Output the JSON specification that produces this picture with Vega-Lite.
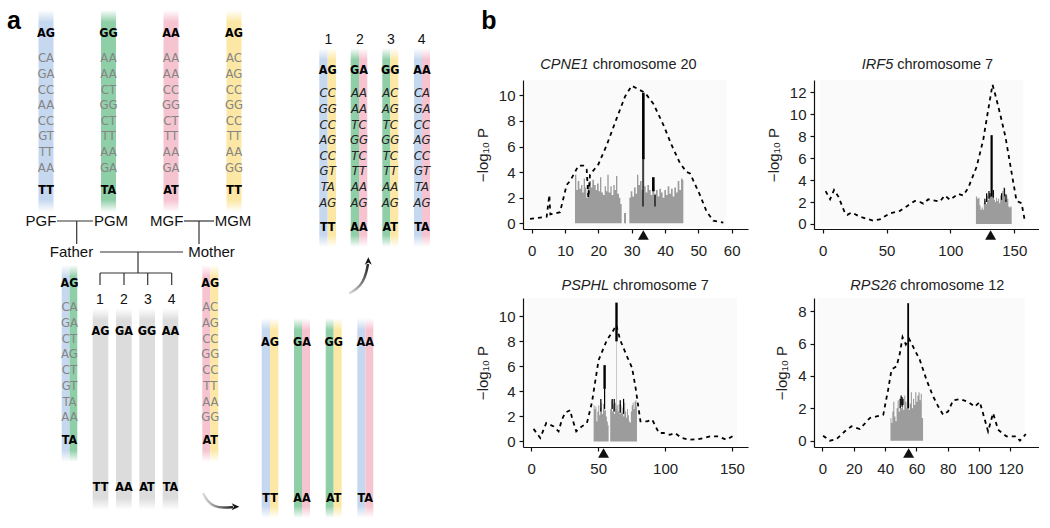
{
"$schema": "https://vega.github.io/schema/vega-lite/v6.json",
"padding": 0,
"background": "white",
"config": {
 "view": {"stroke": null},
 "font": "Liberation Sans",
 "axis": {"domainColor": "#111", "tickColor": "#111", "labelColor": "#222", "labelFontSize": 15, "labelFont": "Liberation Sans", "tickSize": 4, "grid": false, "titleFont": "Liberation Sans", "titleFontSize": 15, "titleFontWeight": "normal", "titleColor": "#222", "domainWidth": 1.2, "tickWidth": 1.2, "labelFlush": false, "labelOverlap": false},
 "axisX": {"labelPadding": 10},
 "axisY": {"labelPadding": 4, "titlePadding": 8}
},
"datasets": {
 "strips": [
  {"c":"blue","x":38.5,"x2":53.5,"y":10,"y2":212},
  {"c":"green","x":101,"x2":116,"y":10,"y2":212},
  {"c":"pink","x":163.5,"x2":178.5,"y":10,"y2":212},
  {"c":"yellow","x":226.5,"x2":241.5,"y":10,"y2":212},
  {"c":"blue","x":61.7,"x2":69.5,"y":265,"y2":462},
  {"c":"green","x":69.5,"x2":77.3,"y":265,"y2":462},
  {"c":"pink","x":202.3,"x2":210.3,"y":265,"y2":462},
  {"c":"yellow","x":210.3,"x2":218.3,"y":265,"y2":462},
  {"c":"gray","x":92.7,"x2":108.3,"y":308,"y2":510},
  {"c":"gray","x":116,"x2":131.7,"y":308,"y2":510},
  {"c":"gray","x":139.3,"x2":155,"y":308,"y2":510},
  {"c":"gray","x":162.7,"x2":178.3,"y":308,"y2":510},
  {"c":"blue","x":261.7,"x2":270,"y":318,"y2":518},
  {"c":"yellow","x":270,"x2":278.3,"y":318,"y2":518},
  {"c":"green","x":294,"x2":302,"y":318,"y2":518},
  {"c":"pink","x":302,"x2":310,"y":318,"y2":518},
  {"c":"green","x":325.7,"x2":333.7,"y":318,"y2":518},
  {"c":"yellow","x":333.7,"x2":341.7,"y":318,"y2":518},
  {"c":"blue","x":357.3,"x2":365.3,"y":318,"y2":518},
  {"c":"pink","x":365.3,"x2":373.3,"y":318,"y2":518},
  {"c":"blue","x":319.3,"x2":327.7,"y":48,"y2":247},
  {"c":"yellow","x":327.7,"x2":336,"y":48,"y2":247},
  {"c":"green","x":350.7,"x2":359,"y":48,"y2":247},
  {"c":"pink","x":359,"x2":367.3,"y":48,"y2":247},
  {"c":"green","x":382.3,"x2":390.3,"y":48,"y2":247},
  {"c":"yellow","x":390.3,"x2":398.3,"y":48,"y2":247},
  {"c":"blue","x":414,"x2":422,"y":48,"y2":247},
  {"c":"pink","x":422,"x2":430,"y":48,"y2":247}
 ],
 "texts": [
  {"s":"panel","x":14,"y":21,"t":"a"},
  {"s":"panel","x":489,"y":21,"t":"b"},
  {"s":"bold","x":46,"y":33.3,"t":"AG"},{"s":"bold","x":108.5,"y":33.3,"t":"GG"},{"s":"bold","x":171,"y":33.3,"t":"AA"},{"s":"bold","x":234,"y":33.3,"t":"AG"},
  {"s":"bold","x":46,"y":190,"t":"TT"},{"s":"bold","x":108.5,"y":190,"t":"TA"},{"s":"bold","x":171,"y":190,"t":"AT"},{"s":"bold","x":234,"y":190,"t":"TT"},
  {"s":"gray","x":46,"y":58.3,"t":"CA"},{"s":"gray","x":46,"y":73.9,"t":"GA"},{"s":"gray","x":46,"y":89.5,"t":"CC"},{"s":"gray","x":46,"y":105.1,"t":"AA"},{"s":"gray","x":46,"y":120.7,"t":"CC"},{"s":"gray","x":46,"y":136.3,"t":"GT"},{"s":"gray","x":46,"y":151.9,"t":"TT"},{"s":"gray","x":46,"y":167.5,"t":"AA"},
  {"s":"gray","x":108.5,"y":58.3,"t":"AA"},{"s":"gray","x":108.5,"y":73.9,"t":"AA"},{"s":"gray","x":108.5,"y":89.5,"t":"CT"},{"s":"gray","x":108.5,"y":105.1,"t":"GG"},{"s":"gray","x":108.5,"y":120.7,"t":"CT"},{"s":"gray","x":108.5,"y":136.3,"t":"TT"},{"s":"gray","x":108.5,"y":151.9,"t":"AA"},{"s":"gray","x":108.5,"y":167.5,"t":"GA"},
  {"s":"gray","x":171,"y":58.3,"t":"AA"},{"s":"gray","x":171,"y":73.9,"t":"AA"},{"s":"gray","x":171,"y":89.5,"t":"CC"},{"s":"gray","x":171,"y":105.1,"t":"GG"},{"s":"gray","x":171,"y":120.7,"t":"CT"},{"s":"gray","x":171,"y":136.3,"t":"TT"},{"s":"gray","x":171,"y":151.9,"t":"AA"},{"s":"gray","x":171,"y":167.5,"t":"GA"},
  {"s":"gray","x":234,"y":58.3,"t":"AC"},{"s":"gray","x":234,"y":73.9,"t":"AG"},{"s":"gray","x":234,"y":89.5,"t":"CC"},{"s":"gray","x":234,"y":105.1,"t":"GG"},{"s":"gray","x":234,"y":120.7,"t":"CC"},{"s":"gray","x":234,"y":136.3,"t":"TT"},{"s":"gray","x":234,"y":151.9,"t":"AA"},{"s":"gray","x":234,"y":167.5,"t":"GG"},
  {"s":"bold","x":69.5,"y":283.3,"t":"AG"},{"s":"bold","x":69.5,"y":440,"t":"TA"},
  {"s":"gray","x":69.5,"y":307.3,"t":"CA"},{"s":"gray","x":69.5,"y":323,"t":"GA"},{"s":"gray","x":69.5,"y":338.7,"t":"CT"},{"s":"gray","x":69.5,"y":354.4,"t":"AG"},{"s":"gray","x":69.5,"y":370.1,"t":"CT"},{"s":"gray","x":69.5,"y":385.8,"t":"GT"},{"s":"gray","x":69.5,"y":401.5,"t":"TA"},{"s":"gray","x":69.5,"y":417.2,"t":"AA"},
  {"s":"bold","x":210.3,"y":283.3,"t":"AG"},{"s":"bold","x":210.3,"y":440,"t":"AT"},
  {"s":"gray","x":210.3,"y":307.3,"t":"AC"},{"s":"gray","x":210.3,"y":323,"t":"AG"},{"s":"gray","x":210.3,"y":338.7,"t":"CC"},{"s":"gray","x":210.3,"y":354.4,"t":"GG"},{"s":"gray","x":210.3,"y":370.1,"t":"CC"},{"s":"gray","x":210.3,"y":385.8,"t":"TT"},{"s":"gray","x":210.3,"y":401.5,"t":"AA"},{"s":"gray","x":210.3,"y":417.2,"t":"GG"},
  {"s":"bold","x":100.5,"y":330.7,"t":"AG"},{"s":"bold","x":124,"y":330.7,"t":"GA"},{"s":"bold","x":147,"y":330.7,"t":"GG"},{"s":"bold","x":170.5,"y":330.7,"t":"AA"},
  {"s":"bold","x":100.5,"y":487.3,"t":"TT"},{"s":"bold","x":124,"y":487.3,"t":"AA"},{"s":"bold","x":147,"y":487.3,"t":"AT"},{"s":"bold","x":170.5,"y":487.3,"t":"TA"},
  {"s":"bold","x":270,"y":341.7,"t":"AG"},{"s":"bold","x":302,"y":341.7,"t":"GA"},{"s":"bold","x":333.7,"y":341.7,"t":"GG"},{"s":"bold","x":365.3,"y":341.7,"t":"AA"},
  {"s":"bold","x":270,"y":498.3,"t":"TT"},{"s":"bold","x":302,"y":498.3,"t":"AA"},{"s":"bold","x":333.7,"y":498.3,"t":"AT"},{"s":"bold","x":365.3,"y":498.3,"t":"TA"},
  {"s":"bold","x":327.7,"y":70,"t":"AG"},{"s":"bold","x":359,"y":70,"t":"GA"},{"s":"bold","x":390.3,"y":70,"t":"GG"},{"s":"bold","x":422,"y":70,"t":"AA"},
  {"s":"bold","x":327.7,"y":226.7,"t":"TT"},{"s":"bold","x":359,"y":226.7,"t":"AA"},{"s":"bold","x":390.3,"y":226.7,"t":"AT"},{"s":"bold","x":422,"y":226.7,"t":"TA"},
  {"s":"ital","x":327.7,"y":93.3,"t":"CC"},{"s":"ital","x":327.7,"y":108.9,"t":"GG"},{"s":"ital","x":327.7,"y":124.6,"t":"CC"},{"s":"ital","x":327.7,"y":140.2,"t":"AG"},{"s":"ital","x":327.7,"y":155.8,"t":"CC"},{"s":"ital","x":327.7,"y":171.4,"t":"GT"},{"s":"ital","x":327.7,"y":187.1,"t":"TA"},{"s":"ital","x":327.7,"y":202.7,"t":"AG"},
  {"s":"ital","x":359,"y":93.3,"t":"AA"},{"s":"ital","x":359,"y":108.9,"t":"AA"},{"s":"ital","x":359,"y":124.6,"t":"TC"},{"s":"ital","x":359,"y":140.2,"t":"GG"},{"s":"ital","x":359,"y":155.8,"t":"TC"},{"s":"ital","x":359,"y":171.4,"t":"TT"},{"s":"ital","x":359,"y":187.1,"t":"AA"},{"s":"ital","x":359,"y":202.7,"t":"AG"},
  {"s":"ital","x":390.3,"y":93.3,"t":"AC"},{"s":"ital","x":390.3,"y":108.9,"t":"AG"},{"s":"ital","x":390.3,"y":124.6,"t":"TC"},{"s":"ital","x":390.3,"y":140.2,"t":"GG"},{"s":"ital","x":390.3,"y":155.8,"t":"TC"},{"s":"ital","x":390.3,"y":171.4,"t":"TT"},{"s":"ital","x":390.3,"y":187.1,"t":"AA"},{"s":"ital","x":390.3,"y":202.7,"t":"AG"},
  {"s":"ital","x":422,"y":93.3,"t":"CA"},{"s":"ital","x":422,"y":108.9,"t":"GA"},{"s":"ital","x":422,"y":124.6,"t":"CC"},{"s":"ital","x":422,"y":140.2,"t":"AG"},{"s":"ital","x":422,"y":155.8,"t":"CC"},{"s":"ital","x":422,"y":171.4,"t":"GT"},{"s":"ital","x":422,"y":187.1,"t":"TA"},{"s":"ital","x":422,"y":202.7,"t":"AG"},
  {"s":"name","x":41,"y":221,"t":"PGF"},{"s":"name","x":111,"y":221,"t":"PGM"},{"s":"name","x":166.7,"y":221,"t":"MGF"},{"s":"name","x":233,"y":221,"t":"MGM"},
  {"s":"name","x":71.5,"y":252,"t":"Father"},{"s":"name","x":211.5,"y":252,"t":"Mother"},
  {"s":"num","x":100,"y":300,"t":"1"},{"s":"num","x":124,"y":300,"t":"2"},{"s":"num","x":148,"y":300,"t":"3"},{"s":"num","x":171.7,"y":300,"t":"4"},
  {"s":"num","x":328.3,"y":40,"t":"1"},{"s":"num","x":360,"y":40,"t":"2"},{"s":"num","x":391,"y":40,"t":"3"},{"s":"num","x":421.7,"y":40,"t":"4"}
 ],
 "links": [
  {"x":57,"y":221,"x2":93,"y2":221},{"x":76.7,"y":221,"x2":76.7,"y2":244},
  {"x":184,"y":221,"x2":214,"y2":221},{"x":199,"y":221,"x2":199,"y2":244},
  {"x":100,"y":252,"x2":183,"y2":252},{"x":138,"y":252,"x2":138,"y2":273},
  {"x":100,"y":273,"x2":171.7,"y2":273},
  {"x":100,"y":273,"x2":100,"y2":285},{"x":124,"y":273,"x2":124,"y2":285},{"x":147.7,"y":273,"x2":147.7,"y2":285},{"x":171.7,"y":273,"x2":171.7,"y2":285}
 ],
 "arrows": [
  {"a":1,"o":1,"x":203,"y":493},{"a":1,"o":2,"x":207,"y":501},{"a":1,"o":3,"x":214,"y":506.5},{"a":1,"o":4,"x":224,"y":508},{"a":1,"o":5,"x":233,"y":507},
  {"a":2,"o":1,"x":349,"y":293.5},{"a":2,"o":2,"x":357,"y":289},{"a":2,"o":3,"x":363,"y":282},{"a":2,"o":4,"x":366.5,"y":272},{"a":2,"o":5,"x":368,"y":264}
 ],
 "heads": [{"a":1,"x":235.5,"y":506.7},{"a":2,"x":368.3,"y":261}],
 "genes": [
  {"p":1,"x":33.5,"gene":"CPNE1","chrom":"chromosome 20"},
  {"p":2,"x":131.5,"gene":"IRF5","chrom":"chromosome 7"},
  {"p":3,"x":54.0,"gene":"PSPHL","chrom":"chromosome 7"},
  {"p":4,"x":55.0,"gene":"RPS26","chrom":"chromosome 12"}
 ],
 "p1_bars": [
  {"seg":"a","x":13.0,"y":3.8},{"seg":"a","x":13.4,"y":2.6},{"seg":"a","x":13.8,"y":3.3},{"seg":"a","x":14.3,"y":2.7},{"seg":"a","x":14.8,"y":3.0},{"seg":"a","x":15.2,"y":2.4},{"seg":"a","x":15.6,"y":3.5},{"seg":"a","x":16.0,"y":2.8},{"seg":"a","x":16.4,"y":2.0},{"seg":"a","x":16.8,"y":2.9},{"seg":"a","x":17.3,"y":3.3},{"seg":"a","x":17.8,"y":2.8},{"seg":"a","x":18.2,"y":3.4},{"seg":"a","x":18.7,"y":3.0},{"seg":"a","x":19.2,"y":2.6},{"seg":"a","x":19.6,"y":3.1},{"seg":"a","x":20.1,"y":2.5},{"seg":"a","x":20.5,"y":3.6},{"seg":"a","x":20.9,"y":2.4},{"seg":"a","x":21.4,"y":2.2},{"seg":"a","x":21.9,"y":2.9},{"seg":"a","x":22.3,"y":2.5},{"seg":"a","x":22.7,"y":3.8},{"seg":"a","x":23.1,"y":2.4},{"seg":"a","x":23.6,"y":2.9},{"seg":"a","x":24.0,"y":2.2},{"seg":"a","x":24.5,"y":3.0},{"seg":"a","x":24.9,"y":2.6},{"seg":"a","x":25.3,"y":3.7},{"seg":"a","x":25.7,"y":2.3},{"seg":"a","x":26.2,"y":2.0},{"seg":"a","x":26.6,"y":1.5},{"seg":"a","x":27.0,"y":1.5},
  {"seg":"b","x":27.7,"y":0.8},{"seg":"b","x":28.3,"y":0.8},
  {"seg":"c","x":29.3,"y":2.0},{"seg":"c","x":29.7,"y":2.5},{"seg":"c","x":30.2,"y":2.1},{"seg":"c","x":30.7,"y":2.8},{"seg":"c","x":31.2,"y":2.3},{"seg":"c","x":31.6,"y":3.8},{"seg":"c","x":32.0,"y":3.0},{"seg":"c","x":32.5,"y":3.3},{"seg":"c","x":33.0,"y":2.6},{"seg":"c","x":33.3,"y":5.1},{"seg":"c","x":33.8,"y":2.9},{"seg":"c","x":34.2,"y":2.4},{"seg":"c","x":34.7,"y":3.0},{"seg":"c","x":35.2,"y":2.6},{"seg":"c","x":35.7,"y":2.2},{"seg":"c","x":36.2,"y":2.8},{"seg":"c","x":36.8,"y":2.3},{"seg":"c","x":37.3,"y":2.6},{"seg":"c","x":37.8,"y":2.1},{"seg":"c","x":38.3,"y":2.7},{"seg":"c","x":38.8,"y":2.4},{"seg":"c","x":39.3,"y":2.0},{"seg":"c","x":39.8,"y":2.6},{"seg":"c","x":40.3,"y":2.2},{"seg":"c","x":40.8,"y":2.9},{"seg":"c","x":41.3,"y":2.3},{"seg":"c","x":41.8,"y":2.7},{"seg":"c","x":42.3,"y":2.1},{"seg":"c","x":42.8,"y":2.8},{"seg":"c","x":43.3,"y":2.4},{"seg":"c","x":43.8,"y":3.3},{"seg":"c","x":44.3,"y":2.6},{"seg":"c","x":44.8,"y":3.5},{"seg":"c","x":45.2,"y":3.4},{"seg":"c","x":45.5,"y":3.4}
 ],
 "p1_black": [
  {"k":"spike","x":33.5,"y":5.0,"y2":10.2},
  {"k":"bit","x":33.4,"y":1.3,"y2":5.0},
  {"k":"spike","x":36.5,"y":2.5,"y2":3.6},
  {"k":"bit","x":37.0,"y":1.3,"y2":2.2}
 ],
 "p1_curve": [
  {"x":-0.5,"y":0.34},{"x":2.5,"y":0.44},{"x":4.5,"y":0.51},{"x":5.3,"y":2.2},{"x":5.6,"y":0.7},{"x":8.5,"y":0.86},{"x":10.5,"y":3.0},{"x":11.5,"y":3.3},{"x":13,"y":4.0},{"x":14,"y":4.5},{"x":15.5,"y":4.5},{"x":16.5,"y":4.2},{"x":17,"y":2.0},{"x":17.5,"y":3.8},{"x":20,"y":4.6},{"x":22.5,"y":6.1},{"x":25.5,"y":8.2},{"x":28,"y":9.9},{"x":30,"y":10.75},{"x":31.5,"y":10.55},{"x":34,"y":10.2},{"x":36.5,"y":9.35},{"x":39.5,"y":7.7},{"x":42,"y":6.1},{"x":44.5,"y":4.7},{"x":46.5,"y":4.0},{"x":47.5,"y":3.9},{"x":50.5,"y":2.2},{"x":52.5,"y":0.9},{"x":54.5,"y":0.2},{"x":57.5,"y":0.05}
 ],
 "p2_bars": [
  {"seg":"a","x":120.0,"y":2.5},{"seg":"a","x":121.0,"y":2.3},{"seg":"a","x":122.0,"y":2.4},{"seg":"a","x":122.8,"y":1.7},{"seg":"a","x":123.6,"y":1.3},{"seg":"a","x":124.5,"y":1.5},{"seg":"a","x":125.4,"y":1.3},{"seg":"a","x":126.2,"y":1.9},{"seg":"a","x":127.0,"y":2.1},{"seg":"a","x":127.8,"y":1.8},{"seg":"a","x":128.6,"y":2.6},{"seg":"a","x":129.4,"y":2.2},{"seg":"a","x":130.2,"y":2.8},{"seg":"a","x":131.0,"y":2.4},{"seg":"a","x":131.8,"y":2.9},{"seg":"a","x":132.6,"y":2.5},{"seg":"a","x":133.4,"y":3.0},{"seg":"a","x":134.2,"y":2.2},{"seg":"a","x":135.0,"y":2.0},{"seg":"a","x":135.8,"y":2.4},{"seg":"a","x":136.6,"y":2.1},{"seg":"a","x":137.4,"y":2.3},{"seg":"a","x":138.2,"y":1.9},{"seg":"a","x":139.0,"y":2.6},{"seg":"a","x":139.8,"y":2.3},{"seg":"a","x":140.6,"y":3.0},{"seg":"a","x":141.4,"y":2.5},{"seg":"a","x":142.2,"y":3.2},{"seg":"a","x":143.0,"y":2.2},{"seg":"a","x":143.8,"y":2.6},{"seg":"a","x":144.6,"y":2.3},{"seg":"a","x":145.4,"y":1.6},{"seg":"a","x":146.2,"y":1.5},{"seg":"a","x":147.0,"y":1.6},{"seg":"a","x":148.0,"y":1.6}
 ],
 "p2_black": [
  {"k":"spike","x":132.3,"y":2.5,"y2":8.1},
  {"k":"bit","x":127.0,"y":1.8,"y2":2.3},{"k":"bit","x":128.4,"y":2.0,"y2":2.8},{"k":"bit","x":130.2,"y":2.3,"y2":3.0},{"k":"bit","x":131.0,"y":2.4,"y2":2.8},{"k":"bit","x":133.6,"y":2.4,"y2":3.1},{"k":"bit","x":140.1,"y":2.2,"y2":2.8},{"k":"bit","x":142.2,"y":2.5,"y2":3.3},{"k":"bit","x":143.5,"y":2.0,"y2":2.7}
 ],
 "p2_curve": [
  {"x":2.3,"y":3.0},{"x":5.8,"y":2.25},{"x":8.9,"y":3.1},{"x":12.3,"y":2.5},{"x":17.5,"y":0.97},{"x":19.3,"y":0.83},{"x":22.7,"y":1.05},{"x":29.2,"y":0.66},{"x":39.6,"y":0.3},{"x":44.8,"y":0.42},{"x":52.7,"y":0.97},{"x":60.5,"y":1.2},{"x":65.7,"y":1.6},{"x":72.2,"y":2.1},{"x":76.2,"y":2.0},{"x":78.8,"y":1.85},{"x":82.7,"y":2.25},{"x":91.8,"y":2.05},{"x":95.7,"y":2.6},{"x":99.7,"y":2.2},{"x":106.2,"y":2.75},{"x":110.1,"y":2.6},{"x":114,"y":3.3},{"x":120.5,"y":5.2},{"x":125.7,"y":7.65},{"x":129.6,"y":10.4},{"x":133,"y":12.7},{"x":135.6,"y":11.6},{"x":138.8,"y":10.1},{"x":143.2,"y":7.9},{"x":147.9,"y":4.7},{"x":151.8,"y":2.1},{"x":155.7,"y":1.9},{"x":158.3,"y":0.3}
 ],
 "p3_bars": [
  {"seg":"a","x":46.6,"y":2.9},{"seg":"a","x":47.3,"y":2.6},{"seg":"a","x":48.0,"y":2.8},{"seg":"a","x":48.7,"y":1.6},{"seg":"a","x":49.4,"y":2.4},{"seg":"a","x":50.1,"y":2.9},{"seg":"a","x":50.8,"y":2.1},{"seg":"a","x":51.5,"y":2.7},{"seg":"a","x":52.2,"y":3.1},{"seg":"a","x":52.9,"y":2.2},{"seg":"a","x":53.6,"y":3.0},{"seg":"a","x":54.3,"y":2.4},{"seg":"a","x":54.6,"y":4.4},{"seg":"a","x":55.1,"y":2.5},{"seg":"a","x":55.8,"y":2.0},{"seg":"a","x":56.5,"y":1.6},{"seg":"a","x":57.2,"y":1.3},{"seg":"a","x":57.8,"y":1.3},
  {"seg":"b","x":59.0,"y":2.6},{"seg":"b","x":59.7,"y":3.3},{"seg":"b","x":60.4,"y":2.4},{"seg":"b","x":61.1,"y":3.0},{"seg":"b","x":61.8,"y":2.2},{"seg":"b","x":62.5,"y":3.1},{"seg":"b","x":63.2,"y":2.6},{"seg":"b","x":63.5,"y":8.3},{"seg":"b","x":63.9,"y":2.9},{"seg":"b","x":64.6,"y":2.4},{"seg":"b","x":65.3,"y":3.0},{"seg":"b","x":66.0,"y":2.2},{"seg":"b","x":66.7,"y":2.9},{"seg":"b","x":67.4,"y":2.3},{"seg":"b","x":68.1,"y":2.7},{"seg":"b","x":68.8,"y":2.0},{"seg":"b","x":69.5,"y":3.1},{"seg":"b","x":70.2,"y":2.4},{"seg":"b","x":70.9,"y":1.9},{"seg":"b","x":71.6,"y":2.6},{"seg":"b","x":72.3,"y":2.1},{"seg":"b","x":73.0,"y":1.6},{"seg":"b","x":73.7,"y":1.5},{"seg":"b","x":74.4,"y":2.4},{"seg":"b","x":75.1,"y":2.9},{"seg":"b","x":75.8,"y":3.1},{"seg":"b","x":76.5,"y":2.6},{"seg":"b","x":77.2,"y":3.2},{"seg":"b","x":77.9,"y":3.3},{"seg":"b","x":78.6,"y":2.8},{"seg":"b","x":79.0,"y":2.8}
 ],
 "p3_black": [
  {"k":"spike","x":63.7,"y":8.0,"y2":11.1},{"k":"spike","x":54.8,"y":4.2,"y2":6.1},
  {"k":"bit","x":54.8,"y":2.6,"y2":4.2},{"k":"bit","x":52.0,"y":2.4,"y2":3.4},{"k":"bit","x":60.5,"y":2.6,"y2":3.4},{"k":"bit","x":62.0,"y":2.4,"y2":3.4},{"k":"bit","x":66.5,"y":2.3,"y2":3.3},{"k":"bit","x":69.0,"y":2.2,"y2":3.4}
 ],
 "p3_curve": [
  {"x":1.7,"y":1.0},{"x":6.7,"y":0.27},{"x":11.2,"y":1.47},{"x":16.7,"y":1.2},{"x":20.4,"y":0.8},{"x":22.9,"y":1.75},{"x":25.4,"y":2.3},{"x":29.1,"y":2.5},{"x":30.4,"y":1.9},{"x":33.6,"y":0.8},{"x":37.8,"y":1.2},{"x":41.6,"y":1.47},{"x":45.3,"y":3.1},{"x":50.3,"y":6.5},{"x":56.5,"y":8.1},{"x":61.5,"y":8.9},{"x":63.5,"y":9.3},{"x":66.5,"y":8.1},{"x":71.5,"y":6.8},{"x":75.3,"y":5.9},{"x":77.8,"y":4.4},{"x":81.6,"y":1.6},{"x":86.6,"y":1.6},{"x":90.4,"y":1.74},{"x":95.4,"y":0.67},{"x":99.1,"y":0.67},{"x":103.6,"y":0.53},{"x":107.4,"y":0.67},{"x":112.4,"y":0.27},{"x":118.6,"y":0.13},{"x":126.1,"y":0.2},{"x":133.6,"y":0.4},{"x":139.8,"y":0.4},{"x":146,"y":0.13},{"x":152.3,"y":0.53}
 ],
 "p4_bars": [
  {"seg":"a","x":43.4,"y":1.4},{"seg":"a","x":44.0,"y":1.1},{"seg":"a","x":44.6,"y":1.8},{"seg":"a","x":45.2,"y":2.4},{"seg":"a","x":45.9,"y":1.5},{"seg":"a","x":46.6,"y":1.2},{"seg":"a","x":47.3,"y":2.0},{"seg":"a","x":48.0,"y":2.5},{"seg":"a","x":48.7,"y":1.8},{"seg":"a","x":49.4,"y":2.2},{"seg":"a","x":50.1,"y":2.0},{"seg":"a","x":50.8,"y":2.5},{"seg":"a","x":51.5,"y":1.9},{"seg":"a","x":52.2,"y":2.8},{"seg":"a","x":52.9,"y":2.4},{"seg":"a","x":53.6,"y":2.0},{"seg":"a","x":54.3,"y":3.4},{"seg":"a","x":55.0,"y":1.9},{"seg":"a","x":55.7,"y":2.3},{"seg":"a","x":56.4,"y":3.0},{"seg":"a","x":57.1,"y":2.0},{"seg":"a","x":57.8,"y":2.6},{"seg":"a","x":58.5,"y":2.2},{"seg":"a","x":59.2,"y":3.0},{"seg":"a","x":59.9,"y":2.4},{"seg":"a","x":60.6,"y":2.8},{"seg":"a","x":61.3,"y":3.0},{"seg":"a","x":62.0,"y":2.5},{"seg":"a","x":62.7,"y":2.9},{"seg":"a","x":63.4,"y":1.4},{"seg":"a","x":64.2,"y":1.4}
 ],
 "p4_black": [
  {"k":"spike","x":54.7,"y":2.0,"y2":8.5},
  {"k":"bit","x":49.6,"y":2.0,"y2":2.6},{"k":"bit","x":50.2,"y":2.2,"y2":2.8},{"k":"bit","x":50.8,"y":2.1,"y2":2.7},{"k":"bit","x":51.4,"y":2.2,"y2":2.6}
 ],
 "p4_curve": [
  {"x":0.4,"y":0.31},{"x":4.7,"y":0},{"x":9,"y":0.1},{"x":14.3,"y":0.58},{"x":18.5,"y":0.89},{"x":23.9,"y":0.72},{"x":30.2,"y":1.4},{"x":34.5,"y":1.5},{"x":38.8,"y":1.6},{"x":41.9,"y":3.15},{"x":44.1,"y":4.4},{"x":47.3,"y":4.6},{"x":49.4,"y":5.4},{"x":51.1,"y":6.4},{"x":53.2,"y":5.95},{"x":55.3,"y":6.3},{"x":57.9,"y":5.8},{"x":62.1,"y":5.0},{"x":66.4,"y":3.76},{"x":70.6,"y":2.74},{"x":73.8,"y":2.13},{"x":77,"y":1.6},{"x":80.2,"y":1.81},{"x":83.4,"y":2.5},{"x":87.7,"y":2.57},{"x":93,"y":2.4},{"x":97.2,"y":2.1},{"x":100.4,"y":2.4},{"x":103.6,"y":1.3},{"x":105.7,"y":0.58},{"x":108.9,"y":1.7},{"x":112.1,"y":0.68},{"x":117.4,"y":0.27},{"x":123.8,"y":0.27},{"x":126,"y":0},{"x":129.8,"y":0.4}
 ]
},
"spacing": 0,
"bounds": "flush",
"hconcat": [
 {
  "width": 523, "height": 528,
  "encoding": {
   "x": {"field": "x", "type": "quantitative", "scale": {"domain": [0, 523], "nice": false, "zero": false}, "axis": null},
   "y": {"field": "y", "type": "quantitative", "scale": {"domain": [0, 528], "nice": false, "zero": false, "reverse": true}, "axis": null}
  },
  "layer": [
   {"data": {"name": "strips"}, "transform": [{"filter": "datum.c === 'blue'"}], "mark": {"type": "rect", "fill": {"gradient": "linear", "x1": 0, "y1": 0, "x2": 0, "y2": 1, "stops": [{"offset": 0, "color": "#ffffff"}, {"offset": 0.06, "color": "#c6d8ef"}, {"offset": 0.94, "color": "#c6d8ef"}, {"offset": 1, "color": "#ffffff"}]}}, "encoding": {"x2": {"field": "x2"}, "y2": {"field": "y2"}}},
   {"data": {"name": "strips"}, "transform": [{"filter": "datum.c === 'green'"}], "mark": {"type": "rect", "fill": {"gradient": "linear", "x1": 0, "y1": 0, "x2": 0, "y2": 1, "stops": [{"offset": 0, "color": "#ffffff"}, {"offset": 0.06, "color": "#8fcfa8"}, {"offset": 0.94, "color": "#8fcfa8"}, {"offset": 1, "color": "#ffffff"}]}}, "encoding": {"x2": {"field": "x2"}, "y2": {"field": "y2"}}},
   {"data": {"name": "strips"}, "transform": [{"filter": "datum.c === 'pink'"}], "mark": {"type": "rect", "fill": {"gradient": "linear", "x1": 0, "y1": 0, "x2": 0, "y2": 1, "stops": [{"offset": 0, "color": "#ffffff"}, {"offset": 0.06, "color": "#f6c3d0"}, {"offset": 0.94, "color": "#f6c3d0"}, {"offset": 1, "color": "#ffffff"}]}}, "encoding": {"x2": {"field": "x2"}, "y2": {"field": "y2"}}},
   {"data": {"name": "strips"}, "transform": [{"filter": "datum.c === 'yellow'"}], "mark": {"type": "rect", "fill": {"gradient": "linear", "x1": 0, "y1": 0, "x2": 0, "y2": 1, "stops": [{"offset": 0, "color": "#ffffff"}, {"offset": 0.06, "color": "#fce8a4"}, {"offset": 0.94, "color": "#fce8a4"}, {"offset": 1, "color": "#ffffff"}]}}, "encoding": {"x2": {"field": "x2"}, "y2": {"field": "y2"}}},
   {"data": {"name": "strips"}, "transform": [{"filter": "datum.c === 'gray'"}], "mark": {"type": "rect", "fill": {"gradient": "linear", "x1": 0, "y1": 0, "x2": 0, "y2": 1, "stops": [{"offset": 0, "color": "#ffffff"}, {"offset": 0.06, "color": "#dcdcdc"}, {"offset": 0.94, "color": "#dcdcdc"}, {"offset": 1, "color": "#ffffff"}]}}, "encoding": {"x2": {"field": "x2"}, "y2": {"field": "y2"}}},
   {"data": {"name": "links"}, "mark": {"type": "rule", "color": "#333", "strokeWidth": 1.2}, "encoding": {"x2": {"field": "x2"}, "y2": {"field": "y2"}}},
   {"data": {"name": "arrows"}, "transform": [{"filter": "datum.a === 1"}], "mark": {"type": "line", "interpolate": "basis", "strokeWidth": 2.5, "stroke": {"gradient": "linear", "x1": 0, "y1": 0, "x2": 1, "y2": 0, "stops": [{"offset": 0, "color": "#e0e0e0"}, {"offset": 1, "color": "#222222"}]}}, "encoding": {"order": {"field": "o", "type": "quantitative"}}},
   {"data": {"name": "arrows"}, "transform": [{"filter": "datum.a === 2"}], "mark": {"type": "line", "interpolate": "basis", "strokeWidth": 2.5, "stroke": {"gradient": "linear", "x1": 0, "y1": 1, "x2": 1, "y2": 0, "stops": [{"offset": 0, "color": "#e0e0e0"}, {"offset": 1, "color": "#222222"}]}}, "encoding": {"order": {"field": "o", "type": "quantitative"}}},
   {"data": {"name": "heads"}, "transform": [{"filter": "datum.a === 1"}], "mark": {"type": "point", "shape": "M-1,-0.9L1,0L-1,0.9L-0.4,0Z", "filled": true, "color": "#111", "size": 60, "opacity": 1, "angle": 0}},
   {"data": {"name": "heads"}, "transform": [{"filter": "datum.a === 2"}], "mark": {"type": "point", "shape": "M-1,-0.9L1,0L-1,0.9L-0.4,0Z", "filled": true, "color": "#111", "size": 60, "opacity": 1, "angle": 270}},
   {"data": {"name": "texts"}, "transform": [{"filter": "datum.s === 'gray'"}], "mark": {"type": "text", "font": "DejaVu Sans Condensed, Liberation Sans Narrow, Liberation Sans", "fontSize": 13, "color": "#858585", "align": "center", "baseline": "middle"}, "encoding": {"text": {"field": "t"}}},
   {"data": {"name": "texts"}, "transform": [{"filter": "datum.s === 'ital'"}], "mark": {"type": "text", "font": "DejaVu Sans Condensed, Liberation Sans Narrow, Liberation Sans", "fontSize": 13, "fontStyle": "italic", "color": "#222", "align": "center", "baseline": "middle"}, "encoding": {"text": {"field": "t"}}},
   {"data": {"name": "texts"}, "transform": [{"filter": "datum.s === 'bold'"}], "mark": {"type": "text", "font": "DejaVu Sans Condensed, Liberation Sans Narrow, Liberation Sans", "fontSize": 12.5, "fontWeight": "bold", "color": "#000", "align": "center", "baseline": "middle"}, "encoding": {"text": {"field": "t"}}},
   {"data": {"name": "texts"}, "transform": [{"filter": "datum.s === 'name'"}], "mark": {"type": "text", "font": "Liberation Sans", "fontSize": 15, "color": "#111", "align": "center", "baseline": "middle"}, "encoding": {"text": {"field": "t"}}},
   {"data": {"name": "texts"}, "transform": [{"filter": "datum.s === 'num'"}], "mark": {"type": "text", "font": "Liberation Sans", "fontSize": 14, "color": "#111", "align": "center", "baseline": "middle"}, "encoding": {"text": {"field": "t"}}},
   {"data": {"name": "texts"}, "transform": [{"filter": "datum.s === 'panel'"}], "mark": {"type": "text", "font": "Liberation Sans", "fontSize": 25, "fontWeight": "bold", "color": "#000", "align": "center", "baseline": "middle"}, "encoding": {"text": {"field": "t"}}}
  ]
 },
 {
  "columns": 2,
  "spacing": {"row": 69, "column": 66},
  "bounds": "flush",
  "concat": [
   {"width": 225, "height": 11, "data": {"values": [{"x": 0}]}, "mark": {"type": "point", "opacity": 0}, "encoding": {}},
   {"width": 225, "height": 11, "data": {"values": [{"x": 0}]}, "mark": {"type": "point", "opacity": 0}, "encoding": {}},
   {
    "width": 225, "height": 149,
    "layer": [
     {"data": {"values": [{"r": 1}]}, "mark": {"type": "rect", "color": "#fafafa"}, "encoding": {"x": {"datum": -1.5, "type": "quantitative", "scale": {"domain": [-2.6, 64.9], "nice": false, "zero": false}, "axis": {"values": [0, 10, 20, 30, 40, 50, 60], "title": null}}, "x2": {"datum": 58.5}, "y": {"datum": 11.2, "type": "quantitative", "scale": {"domain": [-0.45, 11.2], "nice": false, "zero": false}, "axis": {"values": [0, 2, 4, 6, 8, 10], "title": "\u2212log\u2081\u2080 P"}}, "y2": {"datum": -0.25}}},
     {"data": {"name": "p1_bars"}, "mark": {"type": "area", "interpolate": "step-after", "color": "#9c9c9c"}, "encoding": {"x": {"field": "x", "type": "quantitative", "scale": {"domain": [-2.6, 64.9], "nice": false, "zero": false}, "axis": {"values": [0, 10, 20, 30, 40, 50, 60], "title": null}}, "y": {"field": "y", "type": "quantitative", "scale": {"domain": [-0.45, 11.2], "nice": false, "zero": false}, "axis": {"values": [0, 2, 4, 6, 8, 10], "title": "\u2212log\u2081\u2080 P"}}, "y2": {"datum": 0}, "detail": {"field": "seg"}}},
     {"data": {"name": "p1_black"}, "transform": [{"filter": "datum.k === 'spike'"}], "mark": {"type": "rule", "color": "#000", "strokeWidth": 2.6}, "encoding": {"x": {"field": "x", "type": "quantitative", "scale": {"domain": [-2.6, 64.9], "nice": false, "zero": false}, "axis": {"values": [0, 10, 20, 30, 40, 50, 60], "title": null}}, "y": {"field": "y", "type": "quantitative", "scale": {"domain": [-0.45, 11.2], "nice": false, "zero": false}, "axis": {"values": [0, 2, 4, 6, 8, 10], "title": "\u2212log\u2081\u2080 P"}}, "y2": {"field": "y2"}}},
     {"data": {"name": "p1_black"}, "transform": [{"filter": "datum.k === 'bit'"}], "mark": {"type": "rule", "color": "#000", "strokeWidth": 1.2}, "encoding": {"x": {"field": "x", "type": "quantitative", "scale": {"domain": [-2.6, 64.9], "nice": false, "zero": false}, "axis": {"values": [0, 10, 20, 30, 40, 50, 60], "title": null}}, "y": {"field": "y", "type": "quantitative", "scale": {"domain": [-0.45, 11.2], "nice": false, "zero": false}, "axis": {"values": [0, 2, 4, 6, 8, 10], "title": "\u2212log\u2081\u2080 P"}}, "y2": {"field": "y2"}}},
     {"data": {"name": "p1_curve"}, "mark": {"type": "line", "color": "#000", "strokeWidth": 1.8, "strokeDash": [4, 4]}, "encoding": {"x": {"field": "x", "type": "quantitative", "scale": {"domain": [-2.6, 64.9], "nice": false, "zero": false}, "axis": {"values": [0, 10, 20, 30, 40, 50, 60], "title": null}}, "y": {"field": "y", "type": "quantitative", "scale": {"domain": [-0.45, 11.2], "nice": false, "zero": false}, "axis": {"values": [0, 2, 4, 6, 8, 10], "title": "\u2212log\u2081\u2080 P"}}}},
     {"data": {"name": "genes"}, "transform": [{"filter": "datum.p === 1"}], "mark": {"type": "point", "shape": "triangle-up", "filled": true, "color": "#111", "size": 120, "opacity": 1, "yOffset": 6}, "encoding": {"x": {"field": "x", "type": "quantitative", "scale": {"domain": [-2.6, 64.9], "nice": false, "zero": false}, "axis": {"values": [0, 10, 20, 30, 40, 50, 60], "title": null}}, "y": {"datum": -0.45, "type": "quantitative", "scale": {"domain": [-0.45, 11.2], "nice": false, "zero": false}, "axis": {"values": [0, 2, 4, 6, 8, 10], "title": "\u2212log\u2081\u2080 P"}}}},
     {"data": {"name": "genes"}, "transform": [{"filter": "datum.p === 1"}], "mark": {"type": "text", "align": "right", "dx": -2, "fontStyle": "italic", "fontSize": 14.5, "color": "#222", "baseline": "middle"}, "encoding": {"x": {"datum": 17.7, "type": "quantitative", "scale": {"domain": [-2.6, 64.9], "nice": false, "zero": false}, "axis": {"values": [0, 10, 20, 30, 40, 50, 60], "title": null}}, "y": {"datum": 12.37, "type": "quantitative", "scale": {"domain": [-0.45, 11.2], "nice": false, "zero": false}, "axis": {"values": [0, 2, 4, 6, 8, 10], "title": "\u2212log\u2081\u2080 P"}}, "text": {"field": "gene"}}},
     {"data": {"name": "genes"}, "transform": [{"filter": "datum.p === 1"}], "mark": {"type": "text", "align": "left", "dx": 2, "fontSize": 14.5, "color": "#222", "baseline": "middle"}, "encoding": {"x": {"datum": 17.7, "type": "quantitative", "scale": {"domain": [-2.6, 64.9], "nice": false, "zero": false}, "axis": {"values": [0, 10, 20, 30, 40, 50, 60], "title": null}}, "y": {"datum": 12.37, "type": "quantitative", "scale": {"domain": [-0.45, 11.2], "nice": false, "zero": false}, "axis": {"values": [0, 2, 4, 6, 8, 10], "title": "\u2212log\u2081\u2080 P"}}, "text": {"field": "chrom"}}}
    ]
   },
   {
    "width": 225, "height": 149,
    "layer": [
     {"data": {"values": [{"r": 1}]}, "mark": {"type": "rect", "color": "#fafafa"}, "encoding": {"x": {"datum": -2, "type": "quantitative", "scale": {"domain": [-6.8, 169.4], "nice": false, "zero": false}, "axis": {"values": [0, 50, 100, 150], "title": null}}, "x2": {"datum": 157}, "y": {"datum": 13.13, "type": "quantitative", "scale": {"domain": [-0.46, 13.13], "nice": false, "zero": false}, "axis": {"values": [0, 2, 4, 6, 8, 10, 12], "title": "\u2212log\u2081\u2080 P"}}, "y2": {"datum": -0.25}}},
     {"data": {"name": "p2_bars"}, "mark": {"type": "area", "interpolate": "step-after", "color": "#9c9c9c"}, "encoding": {"x": {"field": "x", "type": "quantitative", "scale": {"domain": [-6.8, 169.4], "nice": false, "zero": false}, "axis": {"values": [0, 50, 100, 150], "title": null}}, "y": {"field": "y", "type": "quantitative", "scale": {"domain": [-0.46, 13.13], "nice": false, "zero": false}, "axis": {"values": [0, 2, 4, 6, 8, 10, 12], "title": "\u2212log\u2081\u2080 P"}}, "y2": {"datum": 0}, "detail": {"field": "seg"}}},
     {"data": {"name": "p2_black"}, "transform": [{"filter": "datum.k === 'spike'"}], "mark": {"type": "rule", "color": "#000", "strokeWidth": 2.2}, "encoding": {"x": {"field": "x", "type": "quantitative", "scale": {"domain": [-6.8, 169.4], "nice": false, "zero": false}, "axis": {"values": [0, 50, 100, 150], "title": null}}, "y": {"field": "y", "type": "quantitative", "scale": {"domain": [-0.46, 13.13], "nice": false, "zero": false}, "axis": {"values": [0, 2, 4, 6, 8, 10, 12], "title": "\u2212log\u2081\u2080 P"}}, "y2": {"field": "y2"}}},
     {"data": {"name": "p2_black"}, "transform": [{"filter": "datum.k === 'bit'"}], "mark": {"type": "rule", "color": "#000", "strokeWidth": 1.2}, "encoding": {"x": {"field": "x", "type": "quantitative", "scale": {"domain": [-6.8, 169.4], "nice": false, "zero": false}, "axis": {"values": [0, 50, 100, 150], "title": null}}, "y": {"field": "y", "type": "quantitative", "scale": {"domain": [-0.46, 13.13], "nice": false, "zero": false}, "axis": {"values": [0, 2, 4, 6, 8, 10, 12], "title": "\u2212log\u2081\u2080 P"}}, "y2": {"field": "y2"}}},
     {"data": {"name": "p2_curve"}, "mark": {"type": "line", "color": "#000", "strokeWidth": 1.8, "strokeDash": [4, 4]}, "encoding": {"x": {"field": "x", "type": "quantitative", "scale": {"domain": [-6.8, 169.4], "nice": false, "zero": false}, "axis": {"values": [0, 50, 100, 150], "title": null}}, "y": {"field": "y", "type": "quantitative", "scale": {"domain": [-0.46, 13.13], "nice": false, "zero": false}, "axis": {"values": [0, 2, 4, 6, 8, 10, 12], "title": "\u2212log\u2081\u2080 P"}}}},
     {"data": {"name": "genes"}, "transform": [{"filter": "datum.p === 2"}], "mark": {"type": "point", "shape": "triangle-up", "filled": true, "color": "#111", "size": 120, "opacity": 1, "yOffset": 6}, "encoding": {"x": {"field": "x", "type": "quantitative", "scale": {"domain": [-6.8, 169.4], "nice": false, "zero": false}, "axis": {"values": [0, 50, 100, 150], "title": null}}, "y": {"datum": -0.46, "type": "quantitative", "scale": {"domain": [-0.46, 13.13], "nice": false, "zero": false}, "axis": {"values": [0, 2, 4, 6, 8, 10, 12], "title": "\u2212log\u2081\u2080 P"}}}},
     {"data": {"name": "genes"}, "transform": [{"filter": "datum.p === 2"}], "mark": {"type": "text", "align": "right", "dx": -2, "fontStyle": "italic", "fontSize": 14.5, "color": "#222", "baseline": "middle"}, "encoding": {"x": {"datum": 56.8, "type": "quantitative", "scale": {"domain": [-6.8, 169.4], "nice": false, "zero": false}, "axis": {"values": [0, 50, 100, 150], "title": null}}, "y": {"datum": 14.5, "type": "quantitative", "scale": {"domain": [-0.46, 13.13], "nice": false, "zero": false}, "axis": {"values": [0, 2, 4, 6, 8, 10, 12], "title": "\u2212log\u2081\u2080 P"}}, "text": {"field": "gene"}}},
     {"data": {"name": "genes"}, "transform": [{"filter": "datum.p === 2"}], "mark": {"type": "text", "align": "left", "dx": 2, "fontSize": 14.5, "color": "#222", "baseline": "middle"}, "encoding": {"x": {"datum": 56.8, "type": "quantitative", "scale": {"domain": [-6.8, 169.4], "nice": false, "zero": false}, "axis": {"values": [0, 50, 100, 150], "title": null}}, "y": {"datum": 14.5, "type": "quantitative", "scale": {"domain": [-0.46, 13.13], "nice": false, "zero": false}, "axis": {"values": [0, 2, 4, 6, 8, 10, 12], "title": "\u2212log\u2081\u2080 P"}}, "text": {"field": "chrom"}}}
    ]
   },
   {
    "width": 225, "height": 149,
    "layer": [
     {"data": {"values": [{"r": 1}]}, "mark": {"type": "rect", "color": "#fafafa"}, "encoding": {"x": {"datum": -3, "type": "quantitative", "scale": {"domain": [-6.2, 162], "nice": false, "zero": false}, "axis": {"values": [0, 50, 100, 150], "title": null}}, "x2": {"datum": 153.7}, "y": {"datum": 11.47, "type": "quantitative", "scale": {"domain": [-0.45, 11.47], "nice": false, "zero": false}, "axis": {"values": [0, 2, 4, 6, 8, 10], "title": "\u2212log\u2081\u2080 P"}}, "y2": {"datum": -0.25}}},
     {"data": {"name": "p3_bars"}, "mark": {"type": "area", "interpolate": "step-after", "color": "#9c9c9c"}, "encoding": {"x": {"field": "x", "type": "quantitative", "scale": {"domain": [-6.2, 162], "nice": false, "zero": false}, "axis": {"values": [0, 50, 100, 150], "title": null}}, "y": {"field": "y", "type": "quantitative", "scale": {"domain": [-0.45, 11.47], "nice": false, "zero": false}, "axis": {"values": [0, 2, 4, 6, 8, 10], "title": "\u2212log\u2081\u2080 P"}}, "y2": {"datum": 0}, "detail": {"field": "seg"}}},
     {"data": {"name": "p3_black"}, "transform": [{"filter": "datum.k === 'spike'"}], "mark": {"type": "rule", "color": "#000", "strokeWidth": 2.4}, "encoding": {"x": {"field": "x", "type": "quantitative", "scale": {"domain": [-6.2, 162], "nice": false, "zero": false}, "axis": {"values": [0, 50, 100, 150], "title": null}}, "y": {"field": "y", "type": "quantitative", "scale": {"domain": [-0.45, 11.47], "nice": false, "zero": false}, "axis": {"values": [0, 2, 4, 6, 8, 10], "title": "\u2212log\u2081\u2080 P"}}, "y2": {"field": "y2"}}},
     {"data": {"name": "p3_black"}, "transform": [{"filter": "datum.k === 'bit'"}], "mark": {"type": "rule", "color": "#000", "strokeWidth": 1.2}, "encoding": {"x": {"field": "x", "type": "quantitative", "scale": {"domain": [-6.2, 162], "nice": false, "zero": false}, "axis": {"values": [0, 50, 100, 150], "title": null}}, "y": {"field": "y", "type": "quantitative", "scale": {"domain": [-0.45, 11.47], "nice": false, "zero": false}, "axis": {"values": [0, 2, 4, 6, 8, 10], "title": "\u2212log\u2081\u2080 P"}}, "y2": {"field": "y2"}}},
     {"data": {"name": "p3_curve"}, "mark": {"type": "line", "color": "#000", "strokeWidth": 1.8, "strokeDash": [4, 4]}, "encoding": {"x": {"field": "x", "type": "quantitative", "scale": {"domain": [-6.2, 162], "nice": false, "zero": false}, "axis": {"values": [0, 50, 100, 150], "title": null}}, "y": {"field": "y", "type": "quantitative", "scale": {"domain": [-0.45, 11.47], "nice": false, "zero": false}, "axis": {"values": [0, 2, 4, 6, 8, 10], "title": "\u2212log\u2081\u2080 P"}}}},
     {"data": {"name": "genes"}, "transform": [{"filter": "datum.p === 3"}], "mark": {"type": "point", "shape": "triangle-up", "filled": true, "color": "#111", "size": 120, "opacity": 1, "yOffset": 6}, "encoding": {"x": {"field": "x", "type": "quantitative", "scale": {"domain": [-6.2, 162], "nice": false, "zero": false}, "axis": {"values": [0, 50, 100, 150], "title": null}}, "y": {"datum": -0.45, "type": "quantitative", "scale": {"domain": [-0.45, 11.47], "nice": false, "zero": false}, "axis": {"values": [0, 2, 4, 6, 8, 10], "title": "\u2212log\u2081\u2080 P"}}}},
     {"data": {"name": "genes"}, "transform": [{"filter": "datum.p === 3"}], "mark": {"type": "text", "align": "right", "dx": -2, "fontStyle": "italic", "fontSize": 14.5, "color": "#222", "baseline": "middle"}, "encoding": {"x": {"datum": 59.6, "type": "quantitative", "scale": {"domain": [-6.2, 162], "nice": false, "zero": false}, "axis": {"values": [0, 50, 100, 150], "title": null}}, "y": {"datum": 12.4, "type": "quantitative", "scale": {"domain": [-0.45, 11.47], "nice": false, "zero": false}, "axis": {"values": [0, 2, 4, 6, 8, 10], "title": "\u2212log\u2081\u2080 P"}}, "text": {"field": "gene"}}},
     {"data": {"name": "genes"}, "transform": [{"filter": "datum.p === 3"}], "mark": {"type": "text", "align": "left", "dx": 2, "fontSize": 14.5, "color": "#222", "baseline": "middle"}, "encoding": {"x": {"datum": 59.6, "type": "quantitative", "scale": {"domain": [-6.2, 162], "nice": false, "zero": false}, "axis": {"values": [0, 50, 100, 150], "title": null}}, "y": {"datum": 12.4, "type": "quantitative", "scale": {"domain": [-0.45, 11.47], "nice": false, "zero": false}, "axis": {"values": [0, 2, 4, 6, 8, 10], "title": "\u2212log\u2081\u2080 P"}}, "text": {"field": "chrom"}}}
    ]
   },
   {
    "width": 225, "height": 149,
    "layer": [
     {"data": {"values": [{"r": 1}]}, "mark": {"type": "rect", "color": "#fafafa"}, "encoding": {"x": {"datum": -3, "type": "quantitative", "scale": {"domain": [-5.4, 138.2], "nice": false, "zero": false}, "axis": {"values": [0, 20, 40, 60, 80, 100, 120], "title": null}}, "x2": {"datum": 129}, "y": {"datum": 8.82, "type": "quantitative", "scale": {"domain": [-0.39, 8.82], "nice": false, "zero": false}, "axis": {"values": [0, 2, 4, 6, 8], "title": "\u2212log\u2081\u2080 P"}}, "y2": {"datum": -0.2}}},
     {"data": {"name": "p4_bars"}, "mark": {"type": "area", "interpolate": "step-after", "color": "#9c9c9c"}, "encoding": {"x": {"field": "x", "type": "quantitative", "scale": {"domain": [-5.4, 138.2], "nice": false, "zero": false}, "axis": {"values": [0, 20, 40, 60, 80, 100, 120], "title": null}}, "y": {"field": "y", "type": "quantitative", "scale": {"domain": [-0.39, 8.82], "nice": false, "zero": false}, "axis": {"values": [0, 2, 4, 6, 8], "title": "\u2212log\u2081\u2080 P"}}, "y2": {"datum": 0}, "detail": {"field": "seg"}}},
     {"data": {"name": "p4_black"}, "transform": [{"filter": "datum.k === 'spike'"}], "mark": {"type": "rule", "color": "#000", "strokeWidth": 1.8}, "encoding": {"x": {"field": "x", "type": "quantitative", "scale": {"domain": [-5.4, 138.2], "nice": false, "zero": false}, "axis": {"values": [0, 20, 40, 60, 80, 100, 120], "title": null}}, "y": {"field": "y", "type": "quantitative", "scale": {"domain": [-0.39, 8.82], "nice": false, "zero": false}, "axis": {"values": [0, 2, 4, 6, 8], "title": "\u2212log\u2081\u2080 P"}}, "y2": {"field": "y2"}}},
     {"data": {"name": "p4_black"}, "transform": [{"filter": "datum.k === 'bit'"}], "mark": {"type": "rule", "color": "#000", "strokeWidth": 1.2}, "encoding": {"x": {"field": "x", "type": "quantitative", "scale": {"domain": [-5.4, 138.2], "nice": false, "zero": false}, "axis": {"values": [0, 20, 40, 60, 80, 100, 120], "title": null}}, "y": {"field": "y", "type": "quantitative", "scale": {"domain": [-0.39, 8.82], "nice": false, "zero": false}, "axis": {"values": [0, 2, 4, 6, 8], "title": "\u2212log\u2081\u2080 P"}}, "y2": {"field": "y2"}}},
     {"data": {"name": "p4_curve"}, "mark": {"type": "line", "color": "#000", "strokeWidth": 1.8, "strokeDash": [4, 4]}, "encoding": {"x": {"field": "x", "type": "quantitative", "scale": {"domain": [-5.4, 138.2], "nice": false, "zero": false}, "axis": {"values": [0, 20, 40, 60, 80, 100, 120], "title": null}}, "y": {"field": "y", "type": "quantitative", "scale": {"domain": [-0.39, 8.82], "nice": false, "zero": false}, "axis": {"values": [0, 2, 4, 6, 8], "title": "\u2212log\u2081\u2080 P"}}}},
     {"data": {"name": "genes"}, "transform": [{"filter": "datum.p === 4"}], "mark": {"type": "point", "shape": "triangle-up", "filled": true, "color": "#111", "size": 120, "opacity": 1, "yOffset": 6}, "encoding": {"x": {"field": "x", "type": "quantitative", "scale": {"domain": [-5.4, 138.2], "nice": false, "zero": false}, "axis": {"values": [0, 20, 40, 60, 80, 100, 120], "title": null}}, "y": {"datum": -0.39, "type": "quantitative", "scale": {"domain": [-0.39, 8.82], "nice": false, "zero": false}, "axis": {"values": [0, 2, 4, 6, 8], "title": "\u2212log\u2081\u2080 P"}}}},
     {"data": {"name": "genes"}, "transform": [{"filter": "datum.p === 4"}], "mark": {"type": "text", "align": "right", "dx": -2, "fontStyle": "italic", "fontSize": 14.5, "color": "#222", "baseline": "middle"}, "encoding": {"x": {"datum": 48.4, "type": "quantitative", "scale": {"domain": [-5.4, 138.2], "nice": false, "zero": false}, "axis": {"values": [0, 20, 40, 60, 80, 100, 120], "title": null}}, "y": {"datum": 9.59, "type": "quantitative", "scale": {"domain": [-0.39, 8.82], "nice": false, "zero": false}, "axis": {"values": [0, 2, 4, 6, 8], "title": "\u2212log\u2081\u2080 P"}}, "text": {"field": "gene"}}},
     {"data": {"name": "genes"}, "transform": [{"filter": "datum.p === 4"}], "mark": {"type": "text", "align": "left", "dx": 2, "fontSize": 14.5, "color": "#222", "baseline": "middle"}, "encoding": {"x": {"datum": 48.4, "type": "quantitative", "scale": {"domain": [-5.4, 138.2], "nice": false, "zero": false}, "axis": {"values": [0, 20, 40, 60, 80, 100, 120], "title": null}}, "y": {"datum": 9.59, "type": "quantitative", "scale": {"domain": [-0.39, 8.82], "nice": false, "zero": false}, "axis": {"values": [0, 2, 4, 6, 8], "title": "\u2212log\u2081\u2080 P"}}, "text": {"field": "chrom"}}}
    ]
   }
  ]
 }
]
}
